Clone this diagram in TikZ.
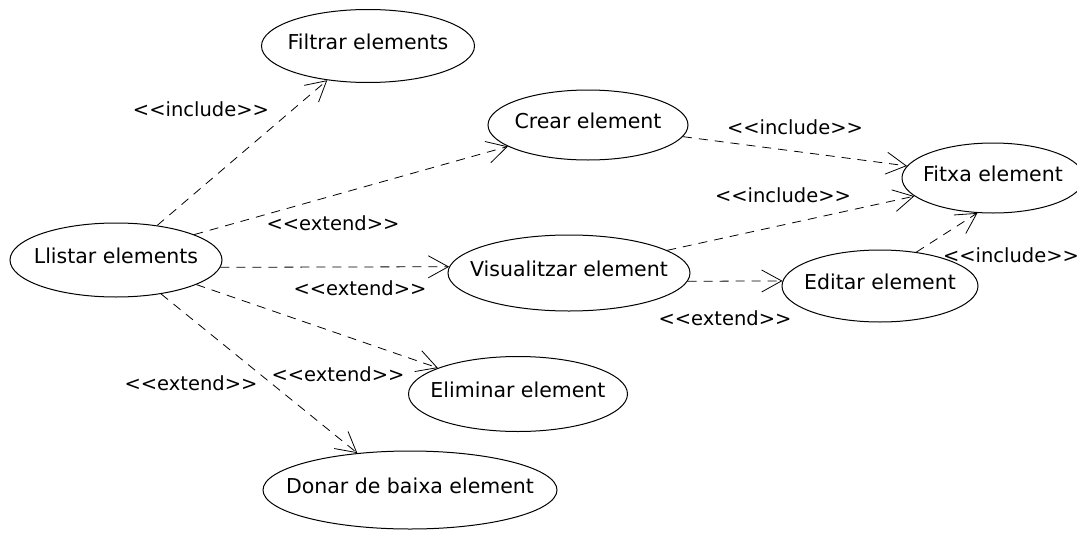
\documentclass[tikz,border=0pt]{standalone}
\usepackage{fontspec}
\setmainfont{DejaVu Sans}[Ligatures=TeXOff]
\usetikzlibrary{shapes.geometric}
\usetikzlibrary{arrows.meta}

\newcommand{\uctext}[1]{\makebox[0pt]{#1}}

\begin{document}
\begin{tikzpicture}[x=1pt,y=1pt,yscale=-1,xscale=1,
	usecase/.style={draw, ellipse, line width=1pt, inner sep=0pt, text height=6pt, text depth=0pt, font=\fontsize{20.5}{24}\selectfont},
	relation/.style={line width=0.8pt, dash pattern=on 9pt off 7pt, -{Straight Barb[length=20pt,width=22pt]}},
	stereo/.style={inner sep=0pt, font=\fontsize{19.5}{23}\selectfont}]
			\useasboundingbox (0,0) rectangle (1077,533);
			
			%Shape: Ellipse [use cases]
			\node[usecase, minimum width=213pt, minimum height=73pt] (filtrar) at (368,46) {\uctext{Filtrar elements}};
			\node[usecase, minimum width=200pt, minimum height=70pt] (crear) at (588,125) {\uctext{Crear element}};
			\node[usecase, minimum width=182pt, minimum height=70pt] (fitxa) at (993,178) {\uctext{Fitxa element}};
			\node[usecase, minimum width=212pt, minimum height=74pt] (llistar) at (116,260) {\uctext{Llistar elements}};
			\node[usecase, minimum width=242pt, minimum height=76pt] (visualitzar) at (569,273) {\uctext{Visualitzar element}};
			\node[usecase, minimum width=196pt, minimum height=72pt] (editar) at (880,286) {\uctext{Editar element}};
			\node[usecase, minimum width=219pt, minimum height=75pt] (eliminar) at (518,394) {\uctext{Eliminar element}};
			\node[usecase, minimum width=294pt, minimum height=78pt] (donar) at (410,490) {\uctext{Donar de baixa element}};
			
			%Dashed Lines [relations]
			\draw[relation] (llistar.40) -- (filtrar.-140);
			\draw[relation] (llistar.18) -- (crear.-165);
			\draw[relation] (llistar.-4) -- (visualitzar.177);
			\draw[relation] (llistar.-17) -- (eliminar.162);
			\draw[relation] (llistar.-37) -- (donar.145);
			\draw[relation] (crear.-7) -- (fitxa.172);
			\draw[relation] (visualitzar.13) -- (fitxa.-167);
			\draw[relation] (visualitzar.-4) -- (editar.177);
			\draw[relation] (editar.43) -- (fitxa.-114);
			
			% Text Node
			\node[stereo] (incfiltrar) at (201,109) {<<include>>};
			% Text Node
			\node[stereo] (extcrear) at (333,223) {<<extend>>};
			% Text Node
			\node[stereo] (extvisual) at (360,288) {<<extend>>};
			% Text Node
			\node[stereo] (extdonar) at (191,383) {<<extend>>};
			% Text Node
			\node[stereo] (exteliminar) at (338,374) {<<extend>>};
			% Text Node
			\node[stereo] (inccrear) at (795,127) {<<include>>};
			% Text Node
			\node[stereo] (incvisual) at (783,195) {<<include>>};
			% Text Node
			\node[stereo] (inceditar) at (1011,255) {<<include>>};
			% Text Node
			\node[stereo] (exteditar) at (725,318) {<<extend>>};
			
		\end{tikzpicture}
\end{document}
